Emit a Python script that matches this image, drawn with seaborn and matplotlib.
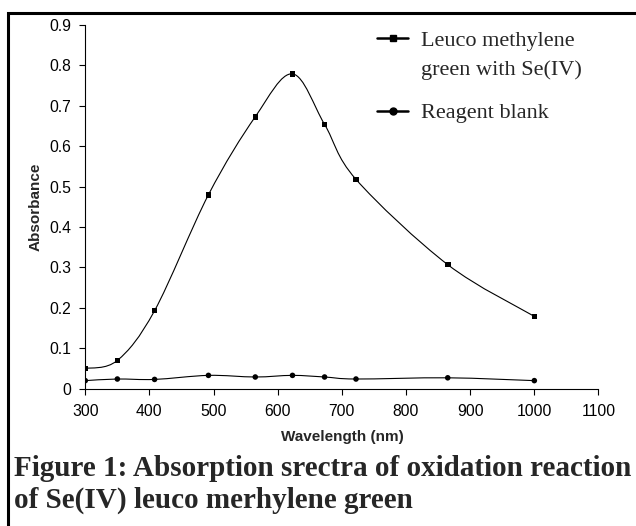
import matplotlib
matplotlib.use("Agg")
import matplotlib.pyplot as plt
import seaborn as sns
import numpy as np
import pandas as pd
from matplotlib.path import Path
from matplotlib.patches import PathPatch, Rectangle
from matplotlib.lines import Line2D

# data
wavelength = [300, 350, 408, 492, 565, 623, 673, 722, 865, 1000]
abs_sample = [0.050, 0.070, 0.193, 0.480, 0.673, 0.779, 0.654, 0.518, 0.307, 0.179]
abs_blank = [0.020, 0.024, 0.023, 0.033, 0.029, 0.033, 0.029, 0.024, 0.027, 0.020]

label_sample = "Leuco methylene\ngreen with Se(IV)"
label_blank = "Reagent blank"
caption_1 = "Figure 1: Absorption srectra of oxidation reaction"
caption_2 = "of Se(IV) leuco merhylene green"

df = pd.DataFrame({"wavelength": wavelength, "sample": abs_sample, "blank": abs_blank})

sns.set_style("ticks")
plt.rcParams["font.family"] = ["Liberation Sans", "DejaVu Sans"]


def smooth_path(x, y):
    # Excel-style smoothed line: Catmull-Rom segments as cubic Beziers
    pts = np.column_stack([x, y]).astype(float)
    ext = np.vstack([pts[0], pts, pts[-1]])
    verts = [pts[0]]
    codes = [Path.MOVETO]
    for i in range(1, len(ext) - 2):
        p0, p1, p2, p3 = ext[i - 1], ext[i], ext[i + 1], ext[i + 2]
        verts += [p1 + (p2 - p0) / 6, p2 - (p3 - p1) / 6, p2]
        codes += [Path.CURVE4] * 3
    return Path(verts, codes)


fig = plt.figure(figsize=(6.36, 5.26), dpi=100)
ax = fig.add_axes([0.1341, 0.2610, 0.8069, 0.6915])

for col, mk in [("sample", "s"), ("blank", "o")]:
    ax.add_patch(PathPatch(smooth_path(df["wavelength"], df[col]),
                           facecolor="none", edgecolor="black", lw=0.8))
    sns.scatterplot(data=df, x="wavelength", y=col, marker=mk, s=16,
                    color="black", edgecolor="none", ax=ax, zorder=3)

ax.set_xlim(300, 1100)
ax.set_ylim(0, 0.9)
ax.set_xticks(np.arange(300, 1101, 100))
ax.set_yticks(np.arange(0, 0.91, 0.1))
ax.set_yticklabels(["0"] + [f"{v:.1f}" for v in np.arange(0.1, 0.91, 0.1)])
ax.tick_params(axis="both", direction="out", length=4, width=0.8,
               labelsize=11.3, colors="black")
ax.tick_params(axis="x", pad=7)
ax.tick_params(axis="y", pad=6)
for s in ["top", "right"]:
    ax.spines[s].set_visible(False)
for s in ["left", "bottom"]:
    ax.spines[s].set_linewidth(0.8)
    ax.spines[s].set_color("black")

ax.set_xlabel("Wavelength (nm)", fontsize=11, fontweight="bold")
ax.set_ylabel("Absorbance", fontsize=11, fontweight="bold")
ax.xaxis.set_label_coords(0.5, -0.113)
ax.yaxis.set_label_coords(-0.083, 0.5)

handles = [
    Line2D([], [], color="black", lw=1.8, marker="s", ms=5),
    Line2D([], [], color="black", lw=1.8, marker="o", ms=5),
]
leg = ax.legend(handles, [label_sample, label_blank], loc="upper left",
                bbox_to_anchor=(377 / 636, 1 - 32 / 526), bbox_transform=fig.transFigure,
                frameon=False, prop={"family": "Liberation Serif", "size": 16},
                handlelength=1.4, handletextpad=0.6, labelspacing=1.05,
                borderaxespad=0, borderpad=0)
for t in leg.get_texts():
    t.set_linespacing(1.6)
# first handle sits level with the first line of its two-line label
h0 = leg.legend_handles[0]
h0.set_ydata(np.asarray(h0.get_ydata()) + 12)

fig.text(14 / 636, 1 - 476 / 526, caption_1, family="Liberation Serif",
         fontsize=21, fontweight="bold", va="baseline", ha="left")
fig.text(14 / 636, 1 - 508 / 526, caption_2, family="Liberation Serif",
         fontsize=21, fontweight="bold", va="baseline", ha="left")

fig.patches.append(Rectangle((8.3 / 636, -0.1), 1.2, 1 - 13.3 / 526 + 0.1,
                             transform=fig.transFigure, fill=False,
                             lw=2.2, edgecolor="black"))

plt.savefig("out.png", dpi=100)
print("out.png saved")
